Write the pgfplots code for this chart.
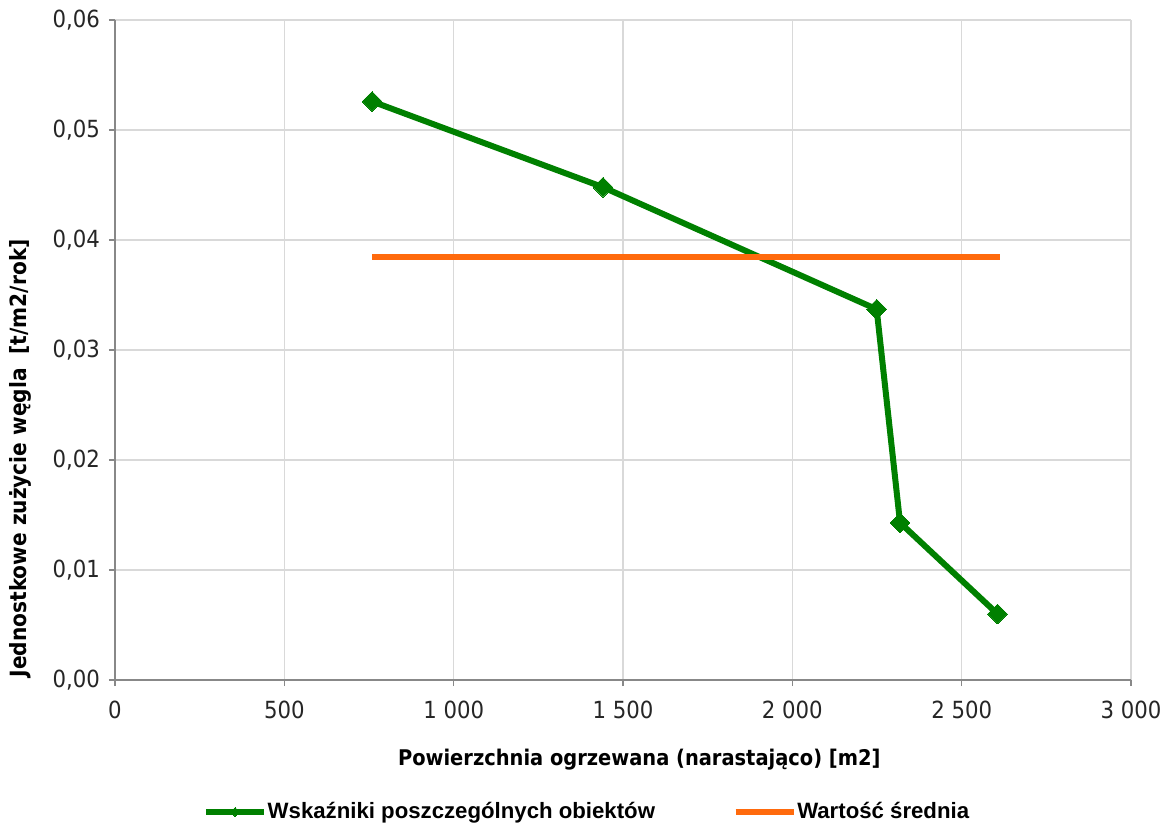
\documentclass[border=0pt]{standalone}
\usepackage{fontspec}
\setmainfont{DejaVu Sans}
\newfontfamily\labfont{DejaVu Sans Condensed}
\newfontfamily\legfont{Liberation Sans}
\usepackage{pgfplots}
\pgfplotsset{compat=1.18}
\definecolor{cgreen}{HTML}{008000}
\definecolor{corange}{HTML}{FF6A0D}
\definecolor{cgrid}{HTML}{D9D9D9}
\definecolor{caxis}{HTML}{888888}
\begin{document}
\begin{tikzpicture}
\begin{axis}[
  scale only axis,
  width=508pt, height=330pt,
  xmin=0, xmax=3000, ymin=0, ymax=0.06,
  xtick={0,500,...,3000},
  ytick={0,0.01,...,0.06},
  scaled x ticks=false, scaled y ticks=false,
  axis lines=left,
  axis line style={-, caxis, line width=0.8pt},
  grid=major,
  major grid style={cgrid, line width=0.7pt},
  tick align=outside,
  major tick length=3pt,
  tick style={caxis, line width=0.6pt},
  tick label style={font=\labfont\fontsize{11.8}{14}\selectfont, text=black!85},
  /pgf/number format/assume math mode=true,
  x tick label style={/pgf/number format/1000 sep={\ }, /pgf/number format/min exponent for 1000 sep=3, yshift=-4pt},
  y tick label style={/pgf/number format/fixed, /pgf/number format/fixed zerofill, /pgf/number format/precision=2, /pgf/number format/use comma, xshift=-1pt},
  xlabel={Powierzchnia ogrzewana (narastająco) [m2]},
  ylabel={Jednostkowe zużycie węgla\ \ [t/m2/rok]},
  xlabel style={font=\labfont\bfseries\fontsize{10.8}{13}\selectfont, at={(axis description cs:0.516,-0.1212)}, anchor=center},
  ylabel style={font=\labfont\bfseries\fontsize{11.2}{13}\selectfont, at={(axis description cs:-0.0935,0.336)}, anchor=center, rotate=0},
  legend style={at={(axis description cs:0.464,-0.2)}, anchor=center, draw=none, fill=none,
    legend columns=2, font=\legfont\bfseries\fontsize{11.1}{13}\selectfont,
    /tikz/every even column/.append style={column sep=38.5pt},
    /tikz/every odd column/.append style={column sep=0pt},
    nodes={inner xsep=0.3pt}},
  legend cell align=left,
  legend image code/.code={\draw[#1, line width=3pt, mark size=1.6pt] (0pt,0pt) -- (29pt,0pt) plot coordinates {(14.5pt,0pt)};},
]
\addplot[cgreen, line width=3pt, mark=square*, mark size=3.5pt, mark options={rotate=45, solid, line width=0pt}]
  coordinates {(759,0.0526) (1441,0.0448) (2249,0.0337) (2318,0.0143) (2606,0.0060)};
\addlegendentry{Wskaźniki poszczególnych obiektów}
\addplot[corange, line width=3pt, mark=none]
  coordinates {(759,0.03845) (2613,0.03845)};
\addlegendentry{Wartość średnia}
\end{axis}
\pgfresetboundingbox
\path[use as bounding box] (-57.5pt,-72.5pt) rectangle (523pt,340pt);
\end{tikzpicture}
\end{document}
